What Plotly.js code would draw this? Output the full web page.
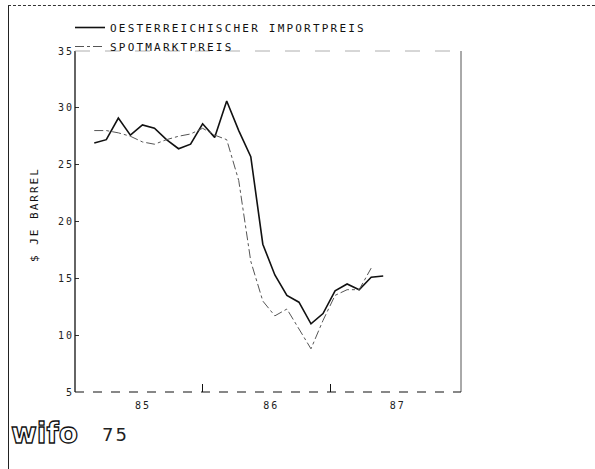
<!DOCTYPE html>
<html>
<head>
<meta charset="utf-8">
<script src="https://cdn.plot.ly/plotly-3.0.1.min.js"></script>
<style>
  html, body { margin:0; padding:0; background:#fff; }
  #wrap { position:relative; width:595px; height:469px; overflow:hidden; }
  #frameL { position:absolute; left:8px; top:5px; width:0; height:464px; border-left:1px solid #222; }
  #frameT { position:absolute; left:8px; top:5px; width:587px; height:0; border-top:1px dashed #333; }
  #chart { position:absolute; left:0; top:0; width:595px; height:469px; }
  .legendtext { letter-spacing: 2.2px; }
  .xtick text, .ytick text { letter-spacing: 2px; }
  .annotation-text { letter-spacing: 2px; }
  g.annotation[data-index="1"] text { fill: #fff !important; stroke: #111; stroke-width: 1.3px; letter-spacing: 0px; }
</style>
</head>
<body>
<div id="wrap">
  <div id="chart"></div>
  <div id="frameL"></div>
  <div id="frameT"></div>
</div>
<script>
// Monthly observations (index along the time axis)
const importPreis = [26.9, 27.2, 29.1, 27.6, 28.5, 28.2, 27.2, 26.4, 26.8, 28.6, 27.4, 30.6, 28.0,
                     25.7, 18.0, 15.3, 13.5, 12.9, 11.0, 11.9, 13.9, 14.5, 14.0, 15.1, 15.2];
const spotPreis   = [28.0, 28.0, 27.8, 27.5, 27.0, 26.8, 27.2, 27.5, 27.7, 28.2, 27.6, 27.2, 23.6,
                     16.5, 13.0, 11.7, 12.3, 10.5, 8.8, 11.3, 13.5, 14.0, 14.0, 15.9];
const yearLabels  = ["85", "86", "87"];
const yearLabelPos = [4.05, 14.7, 25.2];
const yearBoundaries = [9.03, 19.66];
const yTicks = [5, 10, 15, 20, 25, 30, 35];
const seriesNames = ["OESTERREICHISCHER IMPORTPREIS", "SPOTMARKTPREIS"];

const idxA = importPreis.map((_, i) => i);
const idxB = spotPreis.map((_, i) => i);

const mono = "DejaVu Sans Mono, monospace";

const traces = [
  { x: idxA, y: importPreis, type: "scatter", mode: "lines", name: seriesNames[0],
    line: { color: "#111", width: 1.6 } },
  { x: idxB, y: spotPreis, type: "scatter", mode: "lines", name: seriesNames[1],
    line: { color: "#555", width: 1, dash: "dashdot" } }
];

const L = 75, R = 461, T = 51, B = 392;
const W = R - L, H = B - T;
const px = p => (p - L) / W;
const py = q => (B - q) / H;

const layout = {
  width: 595, height: 469,
  margin: { l: L, r: 595 - R, t: T, b: 469 - B },
  paper_bgcolor: "rgba(0,0,0,0)", plot_bgcolor: "rgba(0,0,0,0)",
  showlegend: true,
  legend: { x: px(70), y: py(13), xanchor: "left", yanchor: "top",
            bgcolor: "rgba(0,0,0,0)", font: { family: mono, size: 11, color: "#111" },
            tracegroupgap: 0, itemwidth: 30 },
  xaxis: {
    range: [-1.6, 30.46], showgrid: false, zeroline: false, showline: false,
    tickmode: "array", tickvals: yearLabelPos, ticktext: yearLabels,
    ticks: "", ticklen: 0, ticklabelstandoff: 6,
    tickfont: { family: mono, size: 10, color: "#222" },
    minor: { tickmode: "array", tickvals: yearBoundaries, ticks: "inside", ticklen: 8, tickcolor: "#111", tickwidth: 1 }
  },
  yaxis: {
    range: [5, 35], showgrid: false, zeroline: false, showline: false,
    tickmode: "array", tickvals: yTicks, ticktext: yTicks.map(String),
    ticks: "inside", ticklen: 4, tickcolor: "#333",
    tickfont: { family: mono, size: 10, color: "#222" }
  },
  shapes: [
    { type: "line", xref: "paper", yref: "paper", x0: 0, x1: 0, y0: 0, y1: 1, line: { color: "#111", width: 1.3 } },
    { type: "line", xref: "paper", yref: "paper", x0: 1, x1: 1, y0: 0, y1: 1, line: { color: "#555", width: 1 } },
    { type: "line", xref: "paper", yref: "paper", x0: 0, x1: 1, y0: 0, y1: 0, line: { color: "#111", width: 1.2, dash: "dash" } },
    { type: "line", xref: "paper", yref: "paper", x0: 0, x1: 1, y0: 1, y1: 1, line: { color: "#999", width: 0.8, dash: "longdash" } }
  ],
  annotations: [
    { text: "$ JE BARREL", xref: "paper", yref: "paper", x: px(34), y: py(215),
      xanchor: "center", yanchor: "middle",
      textangle: -90, showarrow: false, font: { family: mono, size: 11, color: "#111" } },
    { text: "<b>wifo</b>", xref: "paper", yref: "paper", x: px(44), y: py(434),
      xanchor: "center", yanchor: "middle",
      showarrow: false, font: { family: "DejaVu Sans", size: 28, color: "#111" } },
    { text: "75", xref: "paper", yref: "paper", x: px(115), y: py(435),
      xanchor: "center", yanchor: "middle",
      showarrow: false, font: { family: "DejaVu Sans", size: 18, color: "#222" } }
  ]
};

Plotly.newPlot("chart", traces, layout, { displayModeBar: false, staticPlot: true });
</script>
</body>
</html>
